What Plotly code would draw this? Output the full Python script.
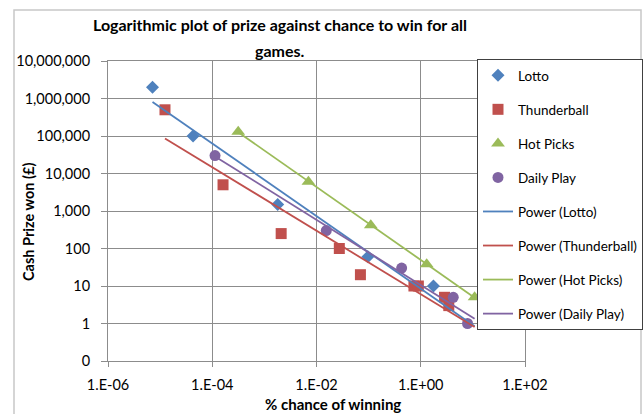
import numpy as np
import plotly.graph_objects as go

# ---- data ----
lotto_x = [7.15e-6, 4.29e-5, 1.8e-3, 0.0968, 1.75]
lotto_y = [2000000, 100000, 1500, 60, 10]

thunder_x = [1.24e-5, 1.61e-4, 2.1e-3, 0.0274, 0.0696, 0.74, 0.9, 2.86, 3.45]
thunder_y = [500000, 5000, 250, 100, 20, 10, 10, 5, 3]

hot_x = [3.15e-4, 7.0e-3, 0.11, 1.3, 10.8]
hot_y = [130000, 6000, 420, 38, 5]

daily_x = [1.13e-4, 0.0154, 0.43, 4.2, 7.9]
daily_y = [30000, 300, 30, 5, 1]

series_names = ["Lotto", "Thunderball", "Hot Picks", "Daily Play"]
series_colors = ["#4F81BD", "#C0504D", "#9BBB59", "#8064A2"]
series_symbols = ["diamond", "square", "triangle-up", "circle"]
series_sizes = [10, 11, 12, 11]

x_tickvals = [1e-6, 1e-4, 1e-2, 1e0, 1e2]
x_ticktext = ["1.E-06", "1.E-04", "1.E-02", "1.E+00", "1.E+02"]
y_tickvals = [0.1, 1, 10, 100, 1000, 10000, 100000, 1000000, 10000000]
y_ticktext = ["0", "1", "10", "100", "1,000", "10,000", "100,000", "1,000,000", "10,000,000"]

title_lines = ["Logarithmic plot of prize against chance to win for all", "games."]
x_title = "% chance of winning"
y_title = "Cash Prize won (£)"

FONT = "Lato, 'Open Sans', sans-serif"

data = [(lotto_x, lotto_y), (thunder_x, thunder_y), (hot_x, hot_y), (daily_x, daily_y)]
global_max_x = max(max(x) for x, _ in data)

fig = go.Figure()
for i, (xs, ys) in enumerate(data):
    fig.add_trace(go.Scatter(
        x=xs, y=ys, mode="markers", name=series_names[i],
        legendgroup="g%d" % i,
        marker=dict(symbol=series_symbols[i], size=series_sizes[i], color=series_colors[i],
                    line=dict(width=0)),
    ))

# power trend lines (least squares in log-log space), Excel-style
for i, (xs, ys) in enumerate(data):
    lx = np.log10(xs)
    ly = np.log10(ys)
    b, a = np.polyfit(lx, ly, 1)
    tx = np.array([min(xs), global_max_x])
    ty = 10 ** (a + b * np.log10(tx))
    fig.add_trace(go.Scatter(
        x=tx, y=ty, mode="lines", name="Power (%s)" % series_names[i],
        legendgroup="t%d" % i,
        line=dict(color=series_colors[i], width=1.8),
    ))

PL, PR, PT, PB = 108, 525, 61, 361  # plot area in pixels
W, H = 643, 414


def px_x(p):
    return (p - PL) / (PR - PL)


def px_y(p):
    return (PB - p) / (PB - PT)


grid = "#8c8c8c"
annotations = []
for k, (line, yc) in enumerate(zip(title_lines, [25, 50])):
    annotations.append(dict(text="<b>%s</b>" % line, xref="paper", yref="paper",
                            x=px_x(280), y=px_y(yc), xanchor="center", yanchor="middle",
                            showarrow=False, font=dict(family=FONT, size=16, color="black")))
annotations.append(dict(text="<b>%s</b>" % x_title, xref="paper", yref="paper",
                        x=px_x(333), y=px_y(404), xanchor="center", yanchor="middle",
                        showarrow=False, font=dict(family=FONT, size=15, color="black")))
annotations.append(dict(text="<b>%s</b>" % y_title, xref="paper", yref="paper",
                        x=px_x(28), y=px_y(222), xanchor="center", yanchor="middle",
                        textangle=-90, showarrow=False,
                        font=dict(family=FONT, size=14.5, color="black")))

fig.update_layout(
    width=W, height=H,
    margin=dict(l=PL, r=W - PR, t=PT, b=H - PB, autoexpand=False),
    paper_bgcolor="white", plot_bgcolor="white",
    font=dict(family=FONT, size=14.5, color="black"),
    showlegend=True,
    legend=dict(
        x=px_x(477), y=px_y(59), xanchor="left", yanchor="top",
        bordercolor="#404040", borderwidth=1, bgcolor="white",
        font=dict(family=FONT, size=13.5, color="black"),
        tracegroupgap=13.5, itemwidth=30, maxheight=400,
    ),
    xaxis=dict(
        type="log", range=[-6, 2],
        tickvals=x_tickvals, ticktext=x_ticktext,
        showgrid=True, gridcolor=grid, gridwidth=1,
        showline=True, linecolor=grid, linewidth=1, mirror=True,
        ticks="outside", ticklen=5, tickcolor=grid,
        tickfont=dict(family=FONT, size=14.5, color="black"),
        ticklabelstandoff=6, zeroline=False,
    ),
    yaxis=dict(
        type="log", range=[-1, 7],
        tickvals=y_tickvals, ticktext=y_ticktext,
        showgrid=True, gridcolor=grid, gridwidth=1,
        showline=True, linecolor=grid, linewidth=1, mirror=True,
        ticks="outside", ticklen=6, tickcolor=grid,
        tickfont=dict(family=FONT, size=14.5, color="black"),
        ticklabelstandoff=8, zeroline=False,
    ),
    shapes=[dict(type="rect", xref="paper", yref="paper",
                 x0=px_x(14), x1=px_x(641), y0=px_y(430), y1=px_y(10),
                 line=dict(color="#c8c8c8", width=1.5), layer="below")],
    annotations=annotations,
)

fig.write_html("out.html", post_script="document.body.style.margin='0';",
               config={"displayModeBar": False})
